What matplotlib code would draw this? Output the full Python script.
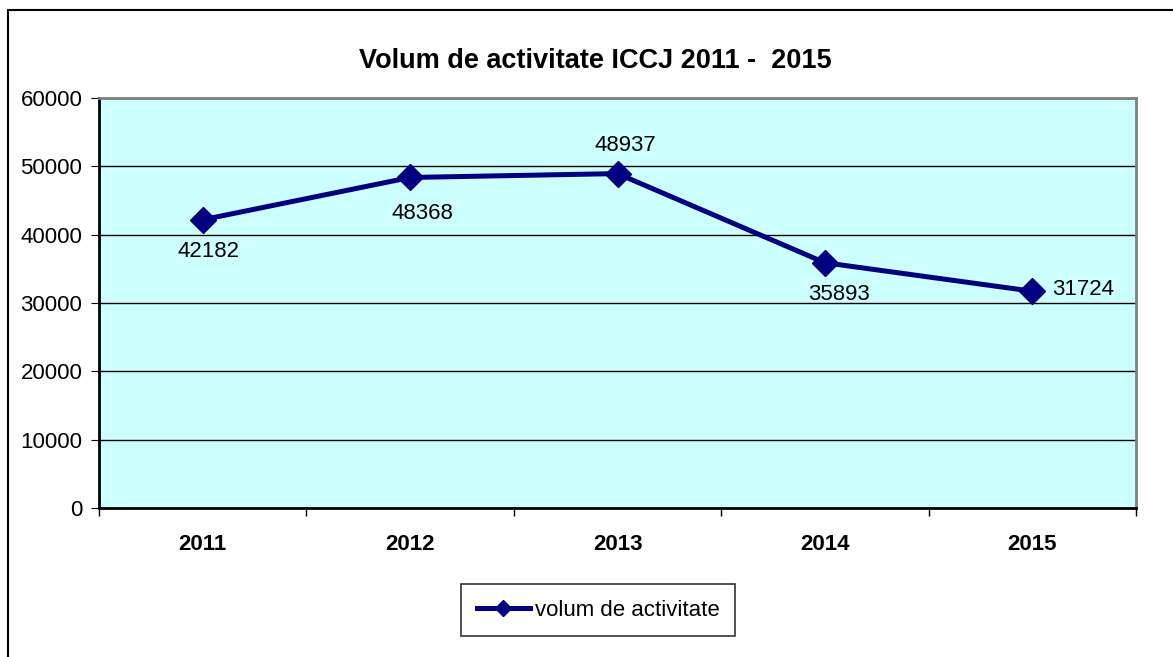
import numpy as np
import matplotlib.pyplot as plt
from matplotlib.patches import Rectangle

plt.rcParams['font.family'] = ['Liberation Sans', 'DejaVu Sans']

years = ["2011", "2012", "2013", "2014", "2015"]
volum = [42182, 48368, 48937, 35893, 31724]
# label offsets in points (dx, dy) and alignment, per point
label_offsets = [(4, -23), (9, -26), (6, 20), (10, -23), (14, 1.5)]
label_ha = ["center", "center", "center", "center", "left"]

W, H = 1173, 657
fig = plt.figure(figsize=(W / 100, H / 100), dpi=100)

# outer chart border (only top/left visible in the crop)
fig.patches.append(Rectangle((8 / W, -0.1), 1.2, 1 - 10 / H + 0.1, transform=fig.transFigure,
                             fill=False, edgecolor='black', linewidth=1.5))

left, right, top, bottom = 99, 1136, 98, 508
ax = fig.add_axes([left / W, 1 - bottom / H, (right - left) / W, (bottom - top) / H])
ax.set_facecolor('#ccffff')

x = np.arange(len(years))
ax.plot(x, volum, color='#000080', lw=3.6, marker='D', markersize=13, label='volum de activitate')

for xi, v, (dx, dy), ha in zip(x, volum, label_offsets, label_ha):
    ax.annotate(str(v), (xi, v), xytext=(dx, dy), textcoords='offset points',
                ha=ha, va='center', fontsize=16)

ax.set_xlim(-0.5, len(years) - 0.5)
ax.set_ylim(0, 60000)
ax.set_yticks(np.arange(0, 60001, 10000))
ax.yaxis.grid(True, color='black', lw=1)
ax.set_axisbelow(True)

ax.set_xticks(np.arange(-0.5, len(years), 1.0))
ax.set_xticklabels([])
ax.set_xticks(x, minor=True)
ax.set_xticklabels(years, minor=True, fontsize=16, fontweight='bold')
ax.tick_params(axis='x', which='minor', length=0, pad=19)
ax.tick_params(axis='x', which='major', length=6, width=1, color='black', direction='out')
ax.tick_params(axis='y', labelsize=16, length=6, direction='out', pad=6)

for s in ['top', 'right']:
    ax.spines[s].set_color('#808080')
    ax.spines[s].set_linewidth(2)
for s in ['left', 'bottom']:
    ax.spines[s].set_color('black')
    ax.spines[s].set_linewidth(2)

fig.text(595 / W, 1 - 61 / H, "Volum de activitate ICCJ 2011 -  2015", ha='center', va='center',
         fontsize=19.5, fontweight='bold')

leg = fig.legend(loc='center', bbox_to_anchor=(598 / W, 1 - 610 / H), fontsize=16,
                 frameon=True, fancybox=False, edgecolor='black', handlelength=2.4,
                 borderpad=0.7, handletextpad=0.2, markerscale=0.6)
leg.get_frame().set_linewidth(1.2)

fig.savefig('out.png', dpi=100)
